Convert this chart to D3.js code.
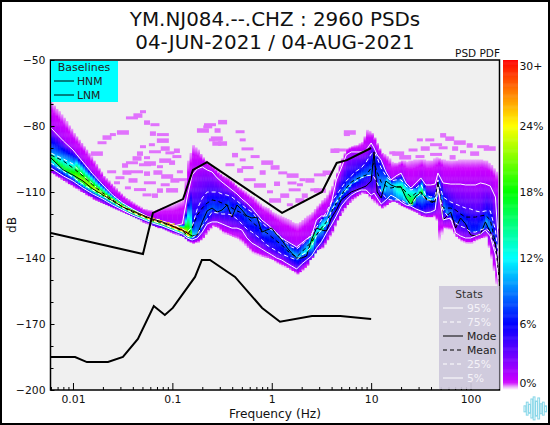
<!DOCTYPE html>
<html><head><meta charset="utf-8">
<script src="https://cdn.jsdelivr.net/npm/d3@7/dist/d3.min.js"></script>
<style>html,body{margin:0;padding:0;background:#fff}svg{display:block}text{font-family:"DejaVu Sans",sans-serif;fill:#111}</style>
</head><body><svg id="c" width="550" height="425"></svg>
<script>
const titleLines=["YM.NJ084.--.CHZ : 2960 PSDs","04-JUN-2021 / 04-AUG-2021"];
const freqs=[.006,.008,.01,.0126,.0158,.02,.0251,.0316,.0398,.0501,.0631,.0794,.1,.126,
.141,.158,.178,.2,.224,.251,.282,.316,.355,.398,
.447,.501,.562,.631,.708,.794,.891,1,1.12,1.26,
1.41,1.58,1.78,2,2.24,2.51,2.82,3.16,3.55,3.98,
4.47,5.01,5.62,6.31,7.08,7.94,8.91,10,
10.7,11.5,12.6,14.1,15.8,17.8,20,22.4,25.1,28.2,31.6,35.5,
39.8,44,47,53,63.1,70.8,79.4,89.1,100,112,126,141,158,
178,190,195];
const p95=[-80.9,-86.8,-90.9,-96.4,-101.8,-106.8,-111.4,-115,-117.7,-120,-122.3,-123.6,-125.5,-124.5,
-112.3,-102.3,-99.5,-98.6,-100,-100.9,-103.6,-105.5,-107.3,-109.1,
-110.9,-113.2,-115,-117.3,-120,-122.7,-124.5,-126.4,-128.6,-130.9,
-132.3,-133.6,-135,-133.2,-131.4,-130,-122.7,-120.9,-120.9,-115,
-104.5,-99.1,-93.2,-91.8,-91.8,-91.8,-90.9,-87.7,
-90,-93.2,-95.5,-100.9,-104.5,-102.7,-101.4,-105.9,-108.2,-105.9,-103.6,-106.8,
-106.8,-106.4,-101.4,-105.9,-106.4,-106.4,-106.4,-106.8,-106.8,-106.8,-105.9,-106.4,-107.3,
-112.3,-131.8,-150];
const p75=[-92.3,-95,-97.3,-102.3,-106.4,-110.5,-113.6,-116.4,-118.6,-120.5,-121.8,-123.2,-124.5,-126.8,
-128.2,-125.9,-117.7,-112.7,-110,-110,-110,-110.9,-111.4,-112.3,
-114.1,-115.9,-117.7,-119.1,-121.8,-124.1,-125.9,-127.3,-129.1,-131.4,
-133.2,-135,-135.9,-134.1,-131.8,-129.1,-125.9,-122.7,-119.1,-114.5,
-111.4,-108.2,-105,-102.7,-100.5,-99.1,-96.4,-92.7,
-91.8,-94.5,-99.1,-102.7,-105,-104.5,-104.5,-107.3,-109.1,-108.2,-106.4,-111.4,
-112.3,-111.8,-104.5,-112.3,-114.5,-115.5,-116.4,-117.3,-117.7,-118.6,-119.1,-118.6,-118.6,
-127.3,-138.6,-152.3];
const meanDb=[-93.2,-95.9,-99.1,-102.7,-106.8,-110.5,-113.6,-116.8,-119.1,-120.9,-122.7,-124.1,-125.5,-127.7,
-129.5,-126.4,-120.5,-117.3,-115,-113.6,-114.1,-115,-115.9,-117.3,
-118.6,-119.5,-121.4,-123.6,-125.5,-127.3,-128.6,-130.5,-132.3,-134.1,
-136.4,-138.2,-139.5,-137.3,-135,-132.7,-129.5,-126.4,-123.6,-119.1,
-115,-111.4,-108.2,-105.5,-104.1,-103.2,-102.3,-99.1,
-96.8,-100.9,-105.5,-107.3,-108.2,-107.7,-107.7,-110,-112.3,-110.5,-110,-112.7,
-114.5,-115,-107.7,-117.3,-117.3,-118.2,-120,-121.4,-121.4,-121.4,-120.9,-120.5,-122.7,
-133.2,-145.5,-156.8];
const modeDb=[-94.5,-100,-102.3,-105,-108.6,-111.4,-114.1,-116.8,-118.6,-120.5,-122.3,-123.6,-125.5,-127.3,
-128.6,-130,-129.5,-123.6,-118.6,-117.3,-119.1,-118.2,-115.9,-121.4,
-115.9,-118.2,-120.9,-121.8,-121.4,-128.2,-127.3,-126.4,-129.5,-131.8,
-135,-137.7,-140,-140,-139.1,-131.8,-126.4,-127.3,-127.7,-121.8,
-118.2,-113.6,-111.8,-110,-109.1,-108.2,-107.3,-105,
-91.8,-110,-112.7,-105,-106.8,-107.7,-107.7,-112.7,-115.9,-111.8,-110.5,-113.2,
-114.1,-114.5,-105.5,-122.7,-119.1,-126.4,-121.8,-124.5,-129.5,-130,-129.1,-123.6,-128.2,
-134.1,-145.5,-156.8];
const p25=[-96.8,-100.5,-103.2,-106.4,-109.1,-111.8,-114.5,-117.3,-119.5,-121.4,-123.2,-124.5,-126.4,-128.2,
-130,-130.9,-129.1,-125.5,-122.3,-119.1,-119.5,-120,-120,-120.5,
-122.3,-124.5,-126.8,-128.2,-130,-131.8,-134.1,-135.5,-136.8,-138.2,
-139.1,-140,-140.9,-138.6,-137.3,-134.5,-130,-127.3,-124.5,-118.6,
-114.5,-111.4,-109.1,-106.4,-105,-103.6,-102.7,-102.3,
-103.2,-105.9,-110,-112.7,-113.6,-113.6,-113.6,-115,-115.9,-112.7,-110.5,-113.6,
-113.6,-113.2,-109.1,-118.2,-122.7,-124.1,-125.5,-126.4,-128.2,-128.2,-127.3,-126.4,-128.2,
-136.4,-147.7,-159.1];
const p5=[-99.1,-102.7,-105,-108.2,-110.9,-113.2,-115.9,-118.2,-120.5,-122.3,-124.1,-125.5,-127.3,-129.1,
-130.9,-131.8,-130.9,-128.2,-124.5,-123.6,-123.6,-124.5,-125.5,-126.4,
-126.4,-127.3,-130.9,-133.2,-134.5,-135.9,-137.3,-138.6,-140,-140.9,
-142.3,-143.6,-145,-142.7,-140.9,-139.1,-135.5,-132.7,-128.6,-125,
-120.9,-116.4,-113.6,-111.4,-110,-109.1,-109.1,-111.4,
-110.5,-112.7,-115.5,-113.6,-111.4,-112.7,-114.5,-115.9,-116.4,-117.7,-118.6,-119.5,
-119.1,-118.2,-107.7,-122.7,-121.8,-128.6,-130,-130.9,-130.9,-130,-129.1,-127.3,-130,
-138.6,-150,-161.4];
const lowEdge=[-101.4,-105,-107.7,-110.5,-113.2,-115.5,-117.3,-119.1,-121.4,-123.6,-125.5,-126.8,-128.6,-130.5,
-132.3,-133.2,-132.7,-130.9,-127.7,-125.5,-126.4,-128.6,-129.5,-130.5,
-131.4,-133.2,-135.5,-137.7,-138.6,-139.5,-140,-140.9,-142.3,-143.6,
-144.5,-145.9,-147.3,-145.5,-143.2,-138.2,-136.4,-135.5,-131.8,-128.2,
-122.7,-119.1,-115.9,-113.6,-111.8,-110.5,-110.9,-113.6,
-115,-115.9,-117.3,-115.9,-113.6,-115,-116.4,-117.3,-118.2,-119.5,-120.9,-121.4,
-121.4,-120.9,-131.8,-126.4,-127.3,-130.5,-132.3,-133.2,-133.2,-131.8,-130.9,-130.5,-140,
-152.3,-156.8,-163.6];
const topEdge=[-69.5,-76.4,-83.2,-89.1,-95.5,-102.7,-107.3,-111.8,-115,-117.7,-118.6,-116.8,-115.9,-113.6,
-95.5,-88.6,-90.9,-94.5,-96.8,-98.6,-100.9,-102.7,-103.6,-105.5,
-107.7,-109.1,-110.9,-112.3,-114.5,-116.4,-117.3,-119.1,-120.5,-121.4,
-122.3,-123.6,-124.5,-122.7,-120.9,-119.1,-116.4,-113.6,-111.4,-107.3,
-100.9,-94.5,-90,-89.1,-88.6,-87.3,-81.8,-83.2,
-85.5,-89.1,-92.3,-93.6,-96.4,-96.8,-95.5,-96.4,-95.5,-95.5,-95,-95.9,
-95.5,-94.5,-94.5,-95.5,-95.9,-95.5,-95.5,-95.5,-95.5,-95.5,-95.5,-95.9,-97.7,
-100.9,-131.8,-150];
const peakPct=[17,18,20,22,23,24,25,27,28,29,30,30,30,30,
28,12,9,8,8,8,8,8,8,8,
8,8,8,8,8,8,8,8,8,8,
9,10,11,12,13,18,13,16,12,10,
11,11,11,10,10,10,9,9,
7,9,11,12,11,14,15,16,20,14,18,12,
12,11,9,10,8,7,7,7,7,7,8,10,9,
7,3,1.5];
const speckFreq=[.0506,.045,.0392,.0556,.0668,.0318,.0252,.022,.0802,.0637,.0196,.0802,.0506,.0847,.0668,.0472,.0945,.0174,.0556,.0441,.0392,.0993,.111,.0594,.075,.0349,.0441,.0556,.0297,.0886,.0277,.0402,.0594,.111,.227,.203,.25,.28,.0472,.0668,.0847,.0993,.0357,
.32,.239,.285,.48,.28,.51,.32,.57,.427,.68,.9,.51,1.08,.57,.81,1.29,1.62,2.04,3.6,3.05,1.13,1.6,
6.1,5.7,4.32,4.85,53,38.9,77.9,30.9,61.8,45,98,26.4,18.7,16.3,35,134,70,53,156,84,110,45,66,31,22,
.0622,.0715,.053,.0334,.0245,.0847,.119,.106,.134,.075,.0556,
.76,.96,1.35,1.7,2.15,2.71,1.08,1.52,1.92,.6,.48,.38,3.05,1.92,2.42];
const speckDb=[-73.6,-75,-76.4,-78.2,-79.5,-82.7,-84,-85,-84,-83.2,-87.7,-86.4,-89.5,-90,-91.8,-92.3,-92.3,-92.3,-94.5,-94.5,-96.8,-96.4,-94,-96.8,-98.6,-100.9,-100.9,-101.4,-103.6,-102.7,-105.9,-104.5,-105.9,-91,-80.5,-81.8,-86.4,-87.7,-109,-111.4,-106.8,-109,-108.2,
-78,-79.5,-81.8,-82.7,-85.5,-86.4,-87.7,-90.5,-93,-94,-96.4,-95.5,-98.6,-99,-100.9,-101.4,-102.3,-104.5,-101,-102.3,-106,-106,
-82.7,-84,-91,-91,-84,-86.4,-87.3,-86.4,-85.5,-88.6,-88.6,-91,-92.3,-92.3,-90,-89.5,-90,-90,-90,-91.8,-92.3,-93,-94,-94,-94,
-88.6,-100.9,-97.7,-97.7,-100.9,-95.5,-100.9,-104.5,-104.5,-109.1,-111.4,
-106.8,-110,-111.4,-109.1,-111.4,-109.1,-113.6,-115.9,-113.6,-104.5,-100,-97.7,-109.1,-106.8,-104.5];
const hnmFreq=[.006,.0506,.0637,.128,.161,.223,1.27,3.2,4.5,5.7,10];
const hnmDb=[-128.6,-138.2,-119.5,-113.2,-100,-96.4,-119.5,-110,-96.8,-95.5,-90];
const lnmFreq=[.006,.0105,.0138,.0225,.0318,.045,.065,.084,.101,.169,.198,.239,.427,.8,1.21,2.54,4.9,10];
const lnmDb=[-185,-185,-187.3,-187.3,-185,-176.8,-161.8,-165.9,-162.7,-148.6,-140.9,-140.9,-148.6,-162.7,-169,-166.4,-166.4,-167.7];
const yTicks=[-50,-80,-110,-140,-170,-200];
const yMinor=[-60,-70,-90,-100,-120,-130,-150,-160,-180,-190];
const xTicks=[.01,.1,1,10,100];
const xMinor=[.006,.007,.008,.009,.02,.03,.04,.05,.06,.07,.08,.09,.2,.3,.4,.5,.6,.7,.8,.9,2,3,4,5,6,7,8,9,20,30,40,50,60,70,80,90];
const colorStops=[0,.25,.7,6,12,18,24,30];
const colorRange=["#ffffff","#edb8fb","#cc00ff","#0000ff","#00ffff","#00ff00","#ffff00","#ff0000"];
const barTicks=[0,6,12,18,24,30];
const barLabels=["0%","6%","12%","18%","24%","30+"];
const statNames=["95%","75%","Mode","Mean","25%","5%"];
const logoHeights=[6,13,9,19,23,15,21,10,13,6];

const svg=d3.select("#c");
const x=d3.scaleLog().domain([.00594,195.6]).range([50.5,499.5]);
const y=d3.scaleLinear().domain([-50,-200]).range([60,390]);
const color=d3.scaleLinear().domain(colorStops).range(colorRange).clamp(true);

const defs=svg.append("defs");
defs.append("clipPath").attr("id","plotClip").append("rect").attr("x",50.5).attr("y",60).attr("width",449).attr("height",330);
defs.append("filter").attr("id","soft").attr("x","-2%").attr("y","-2%").attr("width","104%").attr("height","104%")
 .append("feGaussianBlur").attr("stdDeviation",.6);
defs.append("filter").attr("id","softer").attr("x","-2%").attr("y","-2%").attr("width","104%").attr("height","104%")
 .append("feGaussianBlur").attr("stdDeviation",.7);

svg.append("rect").attr("x",1).attr("y",1).attr("width",548).attr("height",423).attr("fill","#fff").attr("stroke","#000").attr("stroke-width",2);
svg.append("rect").attr("x",50.5).attr("y",60).attr("width",449).attr("height",330).attr("fill","#f0f0f0");

titleLines.forEach((t,i)=>svg.append("text").attr("x",275).attr("y",26+i*23).attr("text-anchor","middle").attr("font-size",19.9).text(t));
svg.append("text").attr("x",500).attr("y",57).attr("text-anchor","end").attr("font-size",10.5).text("PSD PDF");

const plot=svg.append("g").attr("clip-path","url(#plotClip)");
plot.append("g").attr("filter","url(#softer)").selectAll("rect").data(speckFreq.map((f,i)=>({f,d:speckDb[i],i}))).join("rect")
 .attr("x",d=>x(d.f)-(3+d.i%3*1.5)).attr("y",d=>y(d.d)-1.7).attr("width",d=>6+d.i%3*3).attr("height",d=>3+d.i%2*1.5)
 .attr("fill",color(.42));

const interp=a=>d3.scaleLog().domain(freqs).range(a).clamp(true);
const S={top:interp(topEdge),p95:interp(p95),p75:interp(p75),mode:interp(modeDb),p25:interp(p25),p5:interp(p5),low:interp(lowEdge),peak:interp(peakPct)};
const cells=[];
const step=Math.pow(10,1/40);
for(let f=.00594;f<195.6;f*=step){
  const pk=S.peak(f);
  const hiQ=Math.max(S.p75(f),S.p25(f)),loQ=Math.min(S.p75(f),S.p25(f));
  const ridge=Math.min(hiQ,Math.max(loQ,S.mode(f)));
  const low=S.low(f),p5v=Math.min(S.p5(f),loQ-.01),top=Math.max(S.top(f),S.p95(f)+.01);
  const p95v=Math.max(S.p95(f),hiQ+.01);
  const dom=[Math.min(low,p5v-.5),p5v,Math.min(loQ,ridge-.01),ridge,Math.max(hiQ,ridge+.01),p95v,top];
  const q=pk>20?.82:.62;
  const rng=[.2,Math.max(1,pk*.28),Math.max(1.5,pk*q),pk,Math.max(1.5,pk*(q-.07)),Math.min(1.5,pk),.3];
  const den=d3.scaleLinear().domain(dom).range(rng);
  for(let d=Math.ceil(top*2)/2;d>=dom[0];d-=.5){
    if(d>top)continue;
    cells.push({f,d,v:den(d)});
  }
}
plot.append("g").attr("filter","url(#soft)").selectAll("rect").data(cells).join("rect")
 .attr("x",c=>x(c.f)).attr("width",c=>x(c.f*step)+.4-x(c.f))
 .attr("y",c=>y(c.d)-.55).attr("height",1.5)
 .attr("fill",c=>color(c.v));

const line=d3.line().x(d=>x(d[0])).y(d=>y(d[1]));
const statStyles=[["#fff",null],["#fff","4,3"],["#000",null],["#000","4,3"],["#fff","4,3"],["#fff",null]];
[p95,p75,modeDb,meanDb,p25,p5].forEach((a,i)=>{
  plot.append("path").attr("d",line(freqs.map((f,j)=>[f,a[j]]))).attr("fill","none")
   .attr("stroke",statStyles[i][0]).attr("stroke-width",1).attr("stroke-dasharray",statStyles[i][1]);
});
[[hnmFreq,hnmDb],[lnmFreq,lnmDb]].forEach(([fa,da])=>{
  plot.append("path").attr("d",line(fa.map((f,j)=>[f,da[j]]))).attr("fill","none").attr("stroke","#000").attr("stroke-width",2);
});

function styleAxis(g){g.select(".domain").remove();g.selectAll("line").attr("stroke","#000").attr("stroke-width",1);g.selectAll("text").attr("font-size",10.8).attr("font-family",'"DejaVu Sans"');}
svg.append("g").attr("transform","translate(50.5,0)").call(d3.axisLeft(y).tickValues(yTicks).tickSize(-4).tickPadding(5).tickFormat(d3.format("d"))).call(styleAxis);
svg.append("g").attr("transform","translate(50.5,0)").call(d3.axisLeft(y).tickValues(yMinor).tickSize(-3).tickFormat("")).call(styleAxis);
svg.append("g").attr("transform","translate(0,390)").call(d3.axisBottom(x).tickValues(xTicks).tickSize(-7).tickPadding(5).tickFormat(d=>String(d))).call(styleAxis);
svg.append("g").attr("transform","translate(0,390)").call(d3.axisBottom(x).tickValues(xMinor).tickSize(-3).tickFormat("")).call(styleAxis);
svg.append("rect").attr("x",50.5).attr("y",60).attr("width",449).attr("height",330).attr("fill","none").attr("stroke","#000").attr("stroke-width",1.5);
svg.append("text").attr("x",275).attr("y",418).attr("text-anchor","middle").attr("font-size",12.2).text("Frequency (Hz)");
svg.append("text").attr("transform","translate(16,225) rotate(-90)").attr("text-anchor","middle").attr("font-size",12.2).text("dB");

/* baselines legend */
const lg=svg.append("g");
lg.append("rect").attr("x",51).attr("y",61).attr("width",67).attr("height",41).attr("fill","#00ffff");
lg.append("text").attr("x",84).attr("y",71).attr("text-anchor","middle").attr("font-size",11).attr("style","fill:#222").text("Baselines");
["HNM","LNM"].forEach((t,i)=>{const yy=81+i*14;
  lg.append("line").attr("x1",54).attr("x2",74).attr("y1",yy).attr("y2",yy).attr("stroke","#000").attr("stroke-width",1);
  lg.append("text").attr("x",77).attr("y",yy+4).attr("font-size",10.8).attr("style","fill:#222").text(t);
});

/* stats legend */
const sg=svg.append("g");
sg.append("rect").attr("x",439).attr("y",286).attr("width",60.5).attr("height",103).attr("fill","#cdc8db").attr("fill-opacity",.92);
sg.append("text").attr("x",469).attr("y",298).attr("text-anchor","middle").attr("font-size",10.8).attr("style","fill:#333").text("Stats");
statNames.forEach((t,i)=>{const yy=308+i*14;
  sg.append("line").attr("x1",443).attr("x2",463).attr("y1",yy).attr("y2",yy).attr("stroke",statStyles[i][0]).attr("stroke-width",1).attr("stroke-dasharray",statStyles[i][1]);
  sg.append("text").attr("x",467).attr("y",yy+4).attr("font-size",10.8).attr("style","fill:"+(statStyles[i][0]=="#fff"?"#f4f2f8":"#222")).text(t);
});

/* colour bar */
const bar=d3.scaleLinear().domain([0,30]).range([390,60]);
svg.append("g").selectAll("rect").data(d3.range(0,30,.1)).join("rect")
 .attr("x",503).attr("width",15).attr("y",v=>bar(v+.1)).attr("height",v=>bar(v)-bar(v+.1)+.5).attr("fill",v=>color(v));
svg.append("g").selectAll("text").data(barTicks).join("text")
 .attr("x",519.5).attr("y",(v,i)=>bar(v)+(i==0?-3:i==5?10:4)).attr("font-size",10.8).text((v,i)=>barLabels[i]);

/* logo */
const logo=svg.append("g").attr("fill","none").attr("stroke","#86d6e8").attr("stroke-width",1);
logoHeights.forEach((h,i)=>logo.append("rect").attr("x",524+i*2.3).attr("y",409-h/1.9).attr("width",1.8).attr("height",h));
</script></body></html>
